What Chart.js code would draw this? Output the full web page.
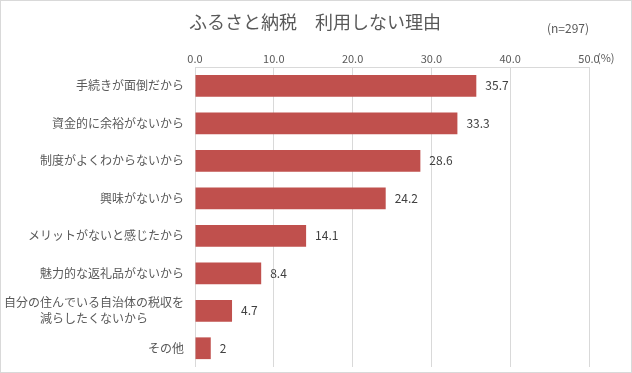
<!DOCTYPE html>
<html>
<head>
<meta charset="utf-8">
<script src="https://cdn.jsdelivr.net/npm/chart.js@4/dist/chart.umd.min.js"></script>
<style>
  html, body { margin: 0; padding: 0; background: #fff; }
  #wrap { width: 632px; height: 373px; }
</style>
</head>
<body>
<div id="wrap"><canvas id="chart" width="632" height="373"></canvas></div>
<script>
var riyu = [
    '手続きが面倒だから',
    '資金的に余裕がないから',
    '制度がよくわからないから',
    '興味がないから',
    'メリットがないと感じたから',
    '魅力的な返礼品がないから',
    ['自分の住んでいる自治体の税収を', '減らしたくないから　　　'],
    'その他'
];
var wariai = [35.7, 33.3, 28.6, 24.2, 14.1, 8.4, 4.7, 2];
var xTicks = [0, 10, 20, 30, 40, 50];

var fonte = '"Noto Sans CJK JP", "Noto Sans", sans-serif';
var cinza = '#595959';

// titulo, borda, rotulos de valor
var extras = {
    id: 'extras',
    beforeDraw: function (chart) {
        var ctx = chart.ctx;
        ctx.save();
        ctx.fillStyle = '#fff';
        ctx.fillRect(0, 0, chart.width, chart.height);
        ctx.strokeStyle = '#d9d9d9';
        ctx.lineWidth = 1;
        ctx.strokeRect(0.5, 0.5, chart.width - 1, chart.height - 1);
        ctx.restore();
    },
    afterDraw: function (chart) {
        var ctx = chart.ctx;
        var x = chart.scales.x;
        ctx.save();
        ctx.fillStyle = cinza;
        ctx.textBaseline = 'middle';
        ctx.textAlign = 'center';
        ctx.font = '18px ' + fonte;
        ctx.fillText('ふるさと納税　利用しない理由', 315, 22);
        ctx.font = '12px ' + fonte;
        ctx.fillText('(n=297)', 568, 28);
        ctx.font = '11px ' + fonte;
        ctx.textAlign = 'left';
        ctx.fillText('(%)', x.getPixelForValue(50) + 8, 58);

        var meta = chart.getDatasetMeta(0);
        ctx.font = '12px ' + fonte;
        ctx.fillStyle = '#404040';
        for (var i = 0; i < meta.data.length; i++) {
            var bar = meta.data[i];
            ctx.fillText(String(wariai[i]), bar.x + 9, bar.y);
        }
        ctx.restore();
    }
};

new Chart(document.getElementById('chart'), {
    type: 'bar',
    data: {
        labels: riyu,
        datasets: [{
            data: wariai,
            backgroundColor: '#c0504d',
            borderWidth: 0,
            barPercentage: 0.58,
            categoryPercentage: 1
        }]
    },
    options: {
        indexAxis: 'y',
        responsive: false,
        animation: false,
        layout: { padding: { top: 47, right: 43, bottom: 6, left: 0 } },
        plugins: {
            legend: { display: false },
            tooltip: { enabled: false }
        },
        scales: {
            x: {
                position: 'top',
                min: 0,
                max: 50,
                afterFit: function (s) {
                    s.height = 20;
                    s.paddingLeft = 0;
                    s.paddingRight = 0;
                },
                afterBuildTicks: function (s) {
                    s.ticks = xTicks.map(function (v) { return { value: v }; });
                },
                ticks: {
                    color: cinza,
                    font: { family: fonte, size: 11 },
                    padding: 2,
                    maxRotation: 0,
                    callback: function (v) { return Number(v).toFixed(1); }
                },
                grid: { color: '#d9d9d9', drawTicks: false },
                border: { display: true, color: '#d9d9d9' }
            },
            y: {
                afterFit: function (s) {
                    s.width = 195;
                    s.paddingTop = 0;
                    s.paddingBottom = 0;
                },
                ticks: {
                    color: cinza,
                    font: { family: fonte, size: 12, lineHeight: 1.35 },
                    padding: 11
                },
                grid: { display: false, drawTicks: false },
                border: { display: false }
            }
        }
    },
    plugins: [extras]
});
</script>
</body>
</html>
